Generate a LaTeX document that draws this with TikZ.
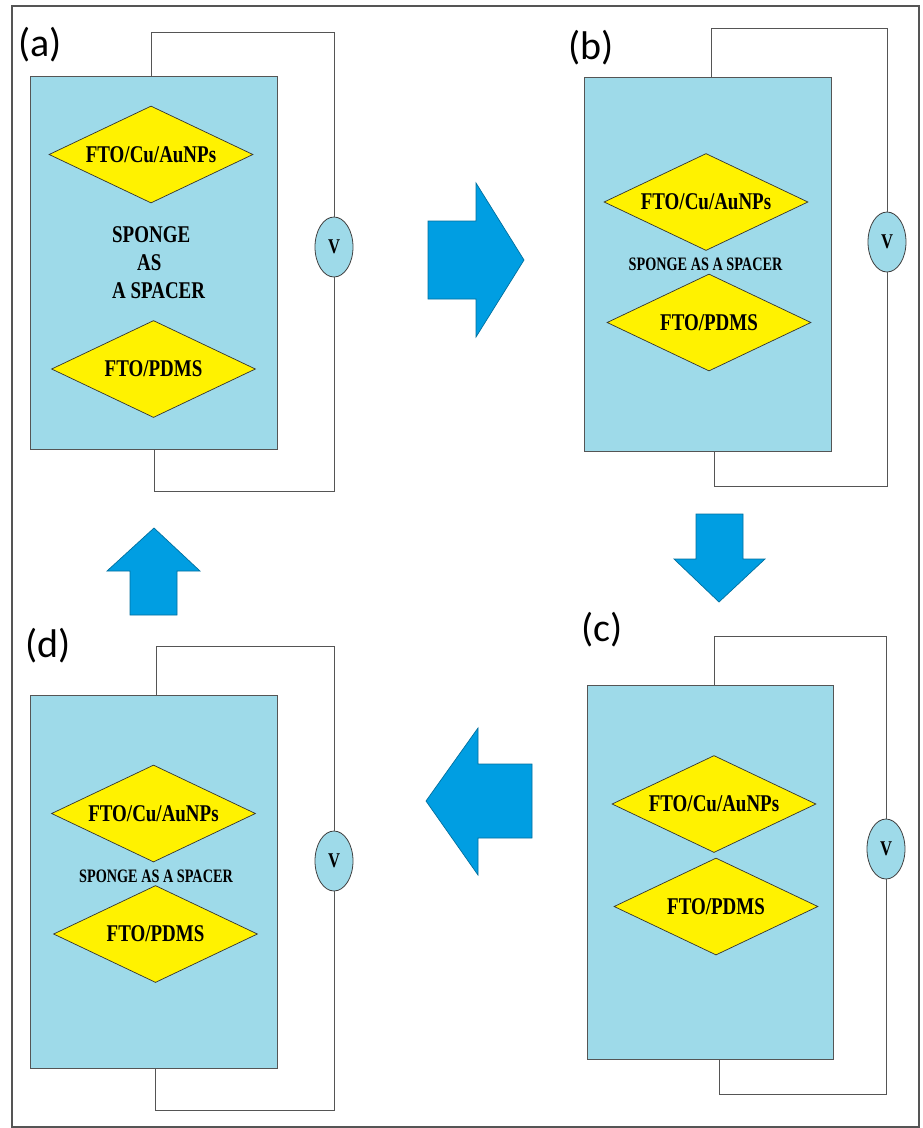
\documentclass[tikz,border=0pt]{standalone}
\usepackage{fontspec}
\usepackage{graphicx}
\setmainfont{Liberation Serif}
\newfontfamily\labfont{Carlito}
\usetikzlibrary{shapes.geometric}
\definecolor{panelblue}{RGB}{158,218,233}
\definecolor{layeryellow}{RGB}{255,242,0}
\definecolor{arrowblue}{RGB}{0,158,226}
\definecolor{wiregray}{RGB}{85,85,85}
\newcommand{\nar}[1]{\scalebox{0.79}[1]{#1}}
\newcommand{\narr}[1]{\scalebox{0.75}[1]{#1}}
\tikzset{
  panel/.style={draw=wiregray, line width=0.9pt, fill=panelblue, rectangle, inner sep=0pt},
  layer/.style={diamond, aspect=2, draw=black!80, line width=0.7pt, fill=layeryellow, inner sep=0pt,
    minimum width=204pt, minimum height=97pt, font=\bfseries\fontsize{24}{24}\selectfont},
  meter/.style={ellipse, draw=black!75, line width=0.8pt, fill=panelblue, inner sep=0pt,
    minimum width=38pt, minimum height=60pt, font=\bfseries\fontsize{21}{21}\selectfont},
  wire/.style={draw=wiregray, line width=0.9pt},
  flow/.style={fill=arrowblue, draw=arrowblue!70!black, line width=0.7pt},
  spacer/.style={inner sep=0pt, font=\bfseries\fontsize{24}{24}\selectfont},
  spacersmall/.style={inner sep=0pt, font=\bfseries\fontsize{19}{19}\selectfont},
  panellabel/.style={inner sep=0pt, font=\labfont\fontsize{40}{40}\selectfont}
}
\begin{document}
\begin{tikzpicture}[x=1pt, y=-1pt]
\useasboundingbox (0,0) rectangle (922,1128);
\fill[white] (0,0) rectangle (922,1128);
% outer frame
\draw[draw=wiregray, line width=1.1pt] (12,6) rectangle (919,1127);

% ---------- panel (a)
\node[panellabel] (la) at (40,45) {(a)};
\node[panel, minimum width=247pt, minimum height=373pt] (ra) at (153.5,262.5) {};
\node[meter] (va) at (334,247) {\nar{V}};
\node[layer] (a1) at (151,154.5) {\nar{FTO/Cu/AuNPs}};
\node[layer] (a2) at (153.5,369) {\nar{FTO/PDMS}};
\node[spacer, anchor=base west] (as1) at (112,242) {\nar{SPONGE}};
\node[spacer, anchor=base west] (as2) at (137,270) {\nar{AS}};
\node[spacer, anchor=base west] (as3) at (112,298) {\nar{A SPACER}};
\draw[wire] (ra.north -| 151,0) -- (151,32) -| (va.north);
\draw[wire] (va.south) |- (154,491) -- (ra.south -| 154,0);

% ---------- panel (b)
\node[panellabel] (lb) at (591,48) {(b)};
\node[panel, minimum width=247pt, minimum height=374pt] (rb) at (707.5,264) {};
\node[meter] (vb) at (887,242) {\nar{V}};
\node[layer] (b1) at (706,202) {\nar{FTO/Cu/AuNPs}};
\node[spacersmall] (bs) at (705.5,264) {\narr{SPONGE AS A SPACER}};
\node[layer] (b2) at (709,322.5) {\nar{FTO/PDMS}};
\draw[wire] (rb.north -| 711,0) -- (711,28) -| (vb.north);
\draw[wire] (vb.south) |- (714,486) -- (rb.south -| 714,0);

% ---------- panel (c)
\node[panellabel] (lc) at (602,630) {(c)};
\node[panel, minimum width=246pt, minimum height=374pt] (rc) at (710,872) {};
\node[meter] (vc) at (886,849) {\nar{V}};
\node[layer] (c1) at (714,804) {\nar{FTO/Cu/AuNPs}};
\node[layer] (c2) at (716,906.5) {\nar{FTO/PDMS}};
\draw[wire] (rc.north -| 714,0) -- (714,636) -| (vc.north);
\draw[wire] (vc.south) |- (719,1094) -- (rc.south -| 719,0);

% ---------- panel (d)
\node[panellabel] (ld) at (48,646) {(d)};
\node[panel, minimum width=247pt, minimum height=373pt] (rd) at (153.5,881.5) {};
\node[meter] (vd) at (334,861) {\nar{V}};
\node[layer] (d1) at (153.5,813.5) {\nar{FTO/Cu/AuNPs}};
\node[spacersmall] (ds) at (156,876) {\narr{SPONGE AS A SPACER}};
\node[layer] (d2) at (155.5,934) {\nar{FTO/PDMS}};
\draw[wire] (rd.north -| 156,0) -- (156,646) -| (vd.north);
\draw[wire] (vd.south) |- (155,1110) -- (rd.south -| 155,0);

% ---------- block arrows
\draw[flow] (428,221) -- (476,221) -- (476,183) -- (524,260) -- (476,337) -- (476,299) -- (428,299) -- cycle;
\draw[flow] (696,514) -- (743,514) -- (743,559) -- (765,559) -- (719,602) -- (674,559) -- (696,559) -- cycle;
\draw[flow] (532,764) -- (478,764) -- (478,728) -- (426,801) -- (478,875) -- (478,838) -- (532,838) -- cycle;
\draw[flow] (130,615) -- (177,615) -- (177,571) -- (200,571) -- (154,528) -- (107,571) -- (130,571) -- cycle;
\end{tikzpicture}
\end{document}
